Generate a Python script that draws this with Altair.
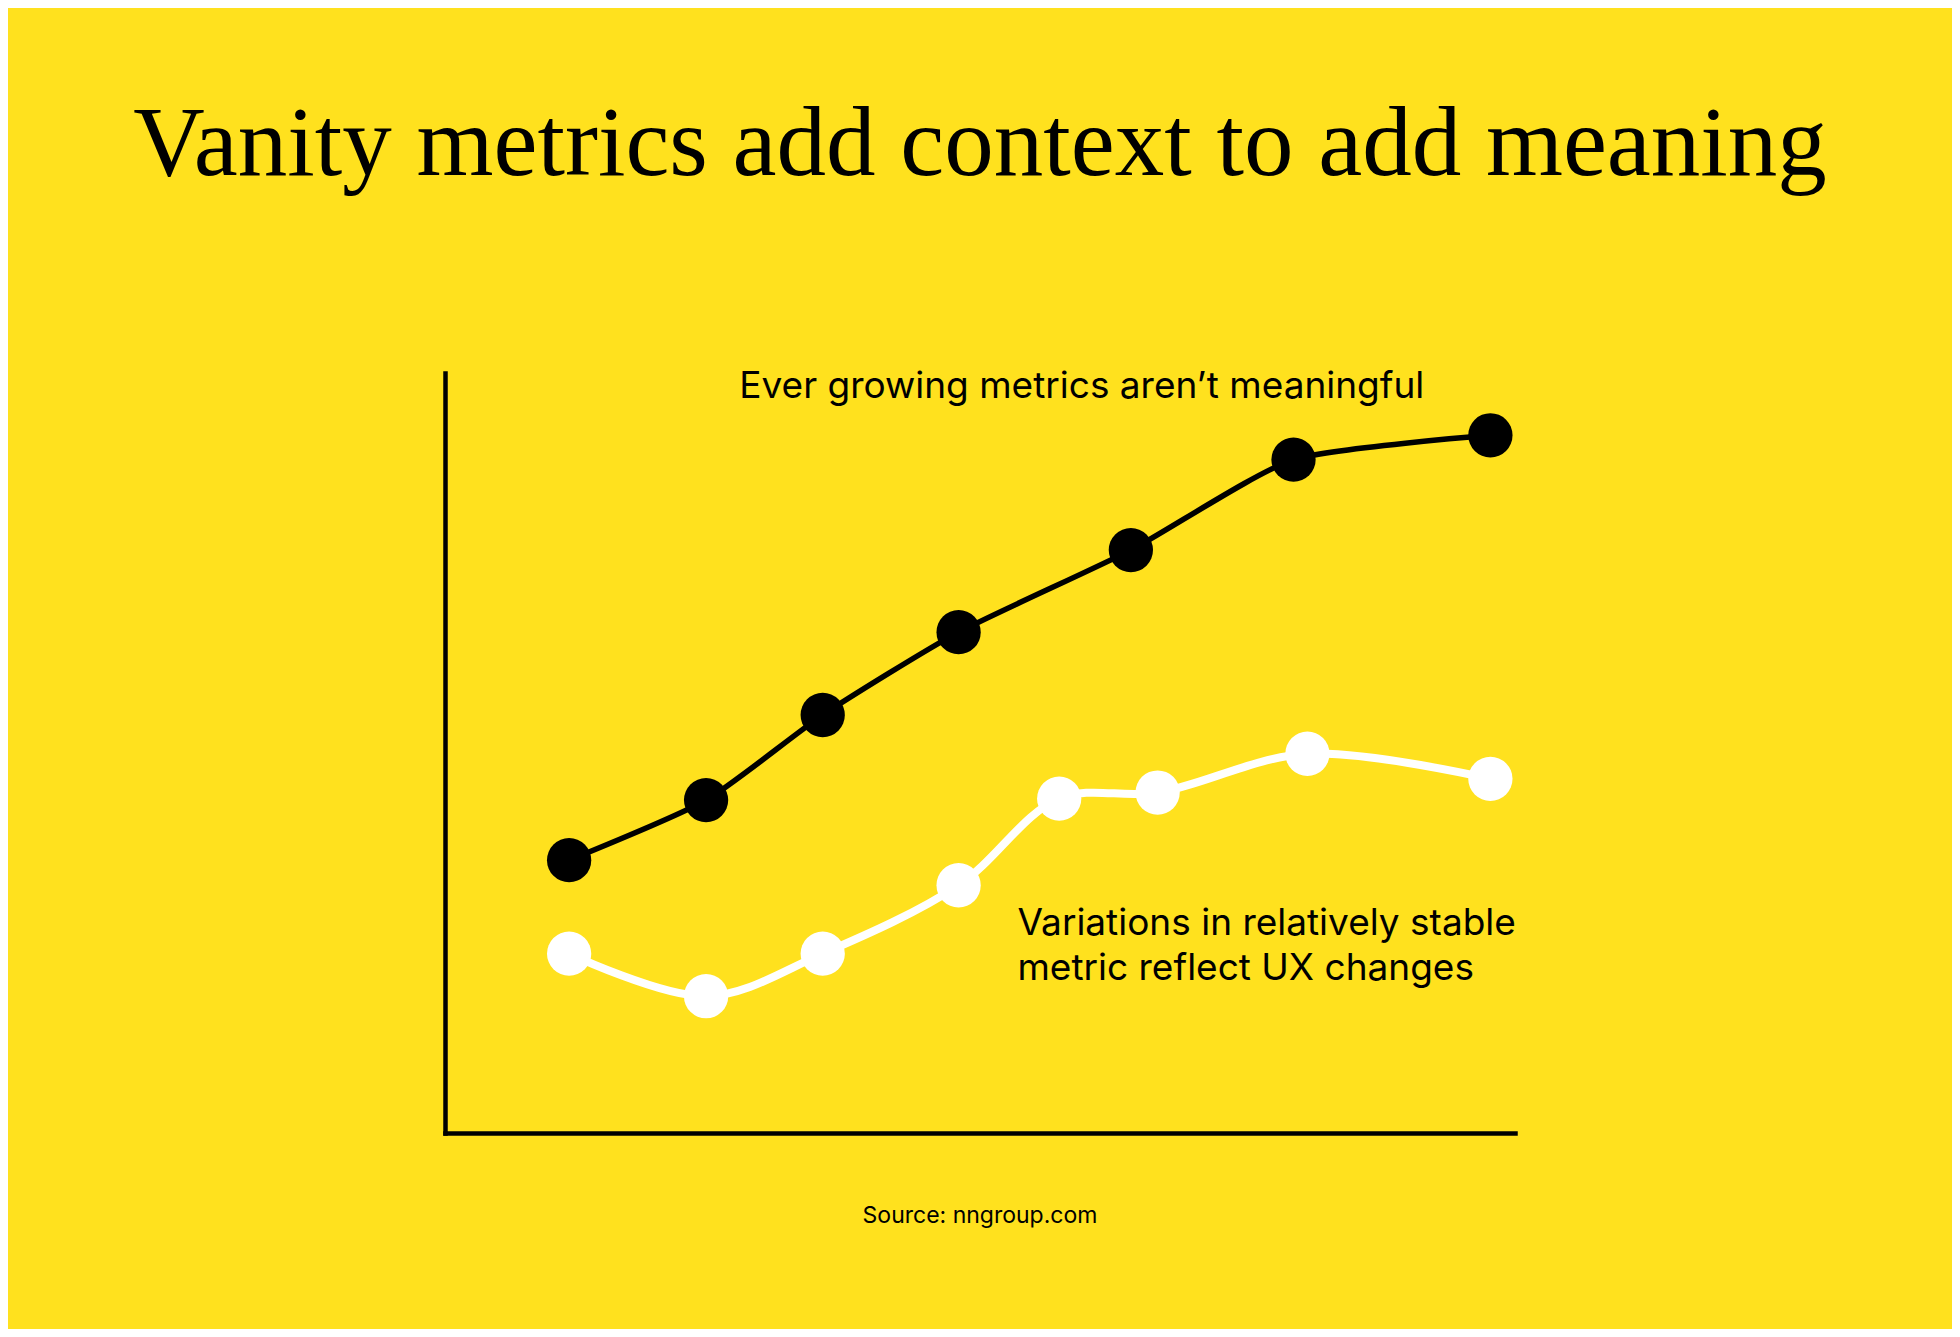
import pandas as pd
import altair as alt

BG = "#FFE11E"

# black series: ever growing metric
x_growing = [11.6, 24.4, 35.3, 48.0, 64.1, 79.3, 97.7]
y_growing = [35.9, 43.8, 55.0, 65.9, 76.7, 88.6, 91.8]

# white series: relatively stable metric
x_stable = [11.6, 24.4, 35.3, 48.0, 57.4, 66.6, 80.6, 97.7]
y_stable = [23.6, 18.0, 23.6, 32.6, 44.0, 44.8, 49.9, 46.6]

notes = [
    "Ever growing metrics aren\u2019t meaningful",
    "Variations in relatively stable",
    "metric reflect UX changes",
]
note_x = [27.5, 53.5, 53.5]
note_y = [96.7, 26.05, 20.1]

source = ["Source: nngroup.com"]
source_x = [50.0]
source_y = [-11.8]


growing = pd.DataFrame({"x": x_growing, "y": y_growing})
stable = pd.DataFrame({"x": x_stable, "y": y_stable})
note_df = pd.DataFrame({"x": note_x, "y": note_y, "text": notes})
source_df = pd.DataFrame({"x": source_x, "y": source_y, "text": source})

axis = alt.Axis(title="", labels=False, ticks=False, grid=False,
                domainColor="black", domainWidth=4.5, domainCap="square")
x_enc = alt.X("x:Q", scale=alt.Scale(domain=[0, 100], nice=False, zero=False), axis=axis)
y_enc = alt.Y("y:Q", scale=alt.Scale(domain=[0, 100], nice=False, zero=False), axis=axis)

stable_line = alt.Chart(stable).mark_line(
    color="white", strokeWidth=8, interpolate="catmull-rom"
).encode(x=x_enc, y=y_enc)
stable_pts = alt.Chart(stable).mark_circle(
    color="white", opacity=1, size=1960
).encode(x=x_enc, y=y_enc)

growing_line = alt.Chart(growing).mark_line(
    color="black", strokeWidth=5.5, interpolate="cardinal", tension=0.4
).encode(x=x_enc, y=y_enc)
growing_pts = alt.Chart(growing).mark_circle(
    color="black", opacity=1, size=1960
).encode(x=x_enc, y=y_enc)

note_text = alt.Chart(note_df).mark_text(
    align="left", baseline="alphabetic", font="Inter", fontSize=37, color="black"
).encode(x=x_enc, y=y_enc, text="text:N")

source_text = alt.Chart(source_df).mark_text(
    align="center", baseline="alphabetic", font="Inter", fontSize=23, color="black"
).encode(x=x_enc, y=y_enc, text="text:N")

chart = alt.layer(
    stable_line, stable_pts, growing_line, growing_pts, note_text, source_text
).properties(
    width=1070,
    height=760,
    autosize=alt.AutoSizeParams(type="none"),
    padding={"left": 437, "top": 365, "right": 437, "bottom": 196},
    background=BG,
    title=alt.TitleParams(
        text="Vanity metrics add context to add meaning",
        font="Liberation Serif",
        fontSize=99,
        fontWeight="normal",
        color="black",
        anchor="middle",
        frame="group",
        baseline="alphabetic",
        offset=94,
    ),
).configure_view(strokeWidth=0)

chart.save("out.html", embed_options={"renderer": "svg", "actions": False})
